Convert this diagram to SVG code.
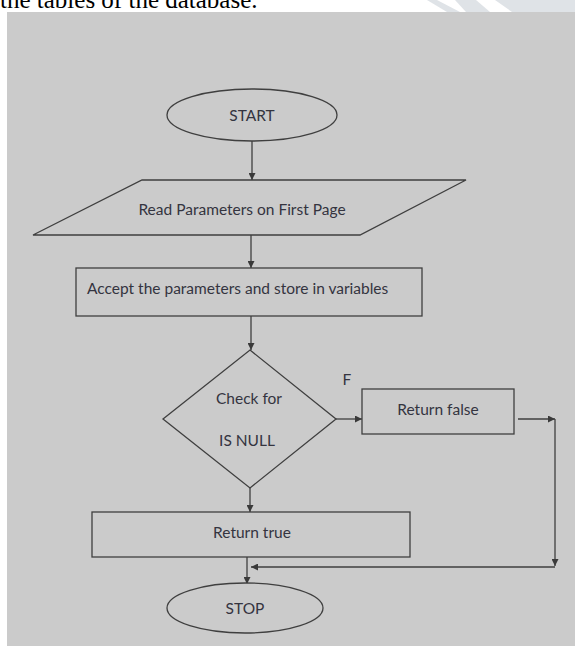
<svg xmlns="http://www.w3.org/2000/svg" width="575" height="646" viewBox="0 0 575 646">
  <style>
    .shape { fill: #cbcbcb; stroke: #3f3f3f; stroke-width: 1.3; }
    .line { fill: none; stroke: #3f3f3f; stroke-width: 1.3; }
    .lbl { font-family: Lato, "Liberation Sans", sans-serif; font-size: 15.5px; fill: #34343f; }
    .mid { text-anchor: middle; dominant-baseline: central; }
  </style>
  <defs>
    <marker id="arr" viewBox="0 0 10 10" refX="10" refY="5" markerWidth="8" markerHeight="7" markerUnits="userSpaceOnUse" orient="auto">
      <path d="M0,0 L10,5 L0,10 z" fill="#3a3a3a"/>
    </marker>
  </defs>
  <rect x="0" y="0" width="575" height="646" fill="#ffffff"/>
  <g id="watermark" fill="#dfe3e7">
    <polygon points="427,0 437,0 460,12 447,12"/>
    <polygon points="455,0 476,0 490,12 466,12"/>
    <path d="M495,0 L575,0 L575,12 L512,12 Z"/>
  </g>
  <text x="0" y="8" font-family="'Liberation Serif', serif" font-size="25" fill="#000">the tables of the database.</text>
  <rect x="7" y="12" width="568" height="634" fill="#cbcbcb"/>

  <g id="connectors">
    <line class="line" x1="252" y1="141" x2="252" y2="180" marker-end="url(#arr)"/>
    <line class="line" x1="251" y1="235" x2="251" y2="268" marker-end="url(#arr)"/>
    <line class="line" x1="251" y1="316" x2="251" y2="350" marker-end="url(#arr)"/>
    <line class="line" x1="336" y1="419" x2="362" y2="419" marker-end="url(#arr)"/>
    <line class="line" x1="518" y1="419" x2="555" y2="419" marker-end="url(#arr)"/>
    <line class="line" x1="555" y1="419" x2="555" y2="566" marker-end="url(#arr)"/>
    <line class="line" x1="555" y1="567" x2="251" y2="567" marker-end="url(#arr)"/>
    <line class="line" x1="250" y1="488" x2="250" y2="512" marker-end="url(#arr)"/>
    <line class="line" x1="247" y1="557" x2="247" y2="584" marker-end="url(#arr)"/>
    <text class="lbl mid" x="347" y="379">F</text>
  </g>

  <g id="start">
    <ellipse class="shape" cx="252" cy="115" rx="85" ry="26"/>
    <text class="lbl mid" x="252" y="115">START</text>
  </g>
  <g id="read">
    <polygon class="shape" points="142,180 466,180 360,235 33,235"/>
    <text class="lbl mid" x="242" y="209">Read Parameters on First Page</text>
  </g>
  <g id="accept">
    <rect class="shape" x="76" y="268" width="346" height="48"/>
    <text class="lbl" x="87" y="288" dominant-baseline="central">Accept the parameters and store in variables</text>
  </g>
  <g id="check">
    <polygon class="shape" points="250,350 336,419 250,488 163,419"/>
    <text class="lbl mid" x="249" y="398">Check for</text>
    <text class="lbl mid" x="247" y="440">IS NULL</text>
  </g>
  <g id="retfalse">
    <rect class="shape" x="362" y="389" width="152" height="45"/>
    <text class="lbl mid" x="438" y="409">Return false</text>
  </g>
  <g id="rettrue">
    <rect class="shape" x="92" y="512" width="318" height="45"/>
    <text class="lbl mid" x="252" y="532">Return true</text>
  </g>
  <g id="stop">
    <ellipse class="shape" cx="245" cy="608" rx="78" ry="25"/>
    <text class="lbl mid" x="245" y="608">STOP</text>
  </g>
</svg>
